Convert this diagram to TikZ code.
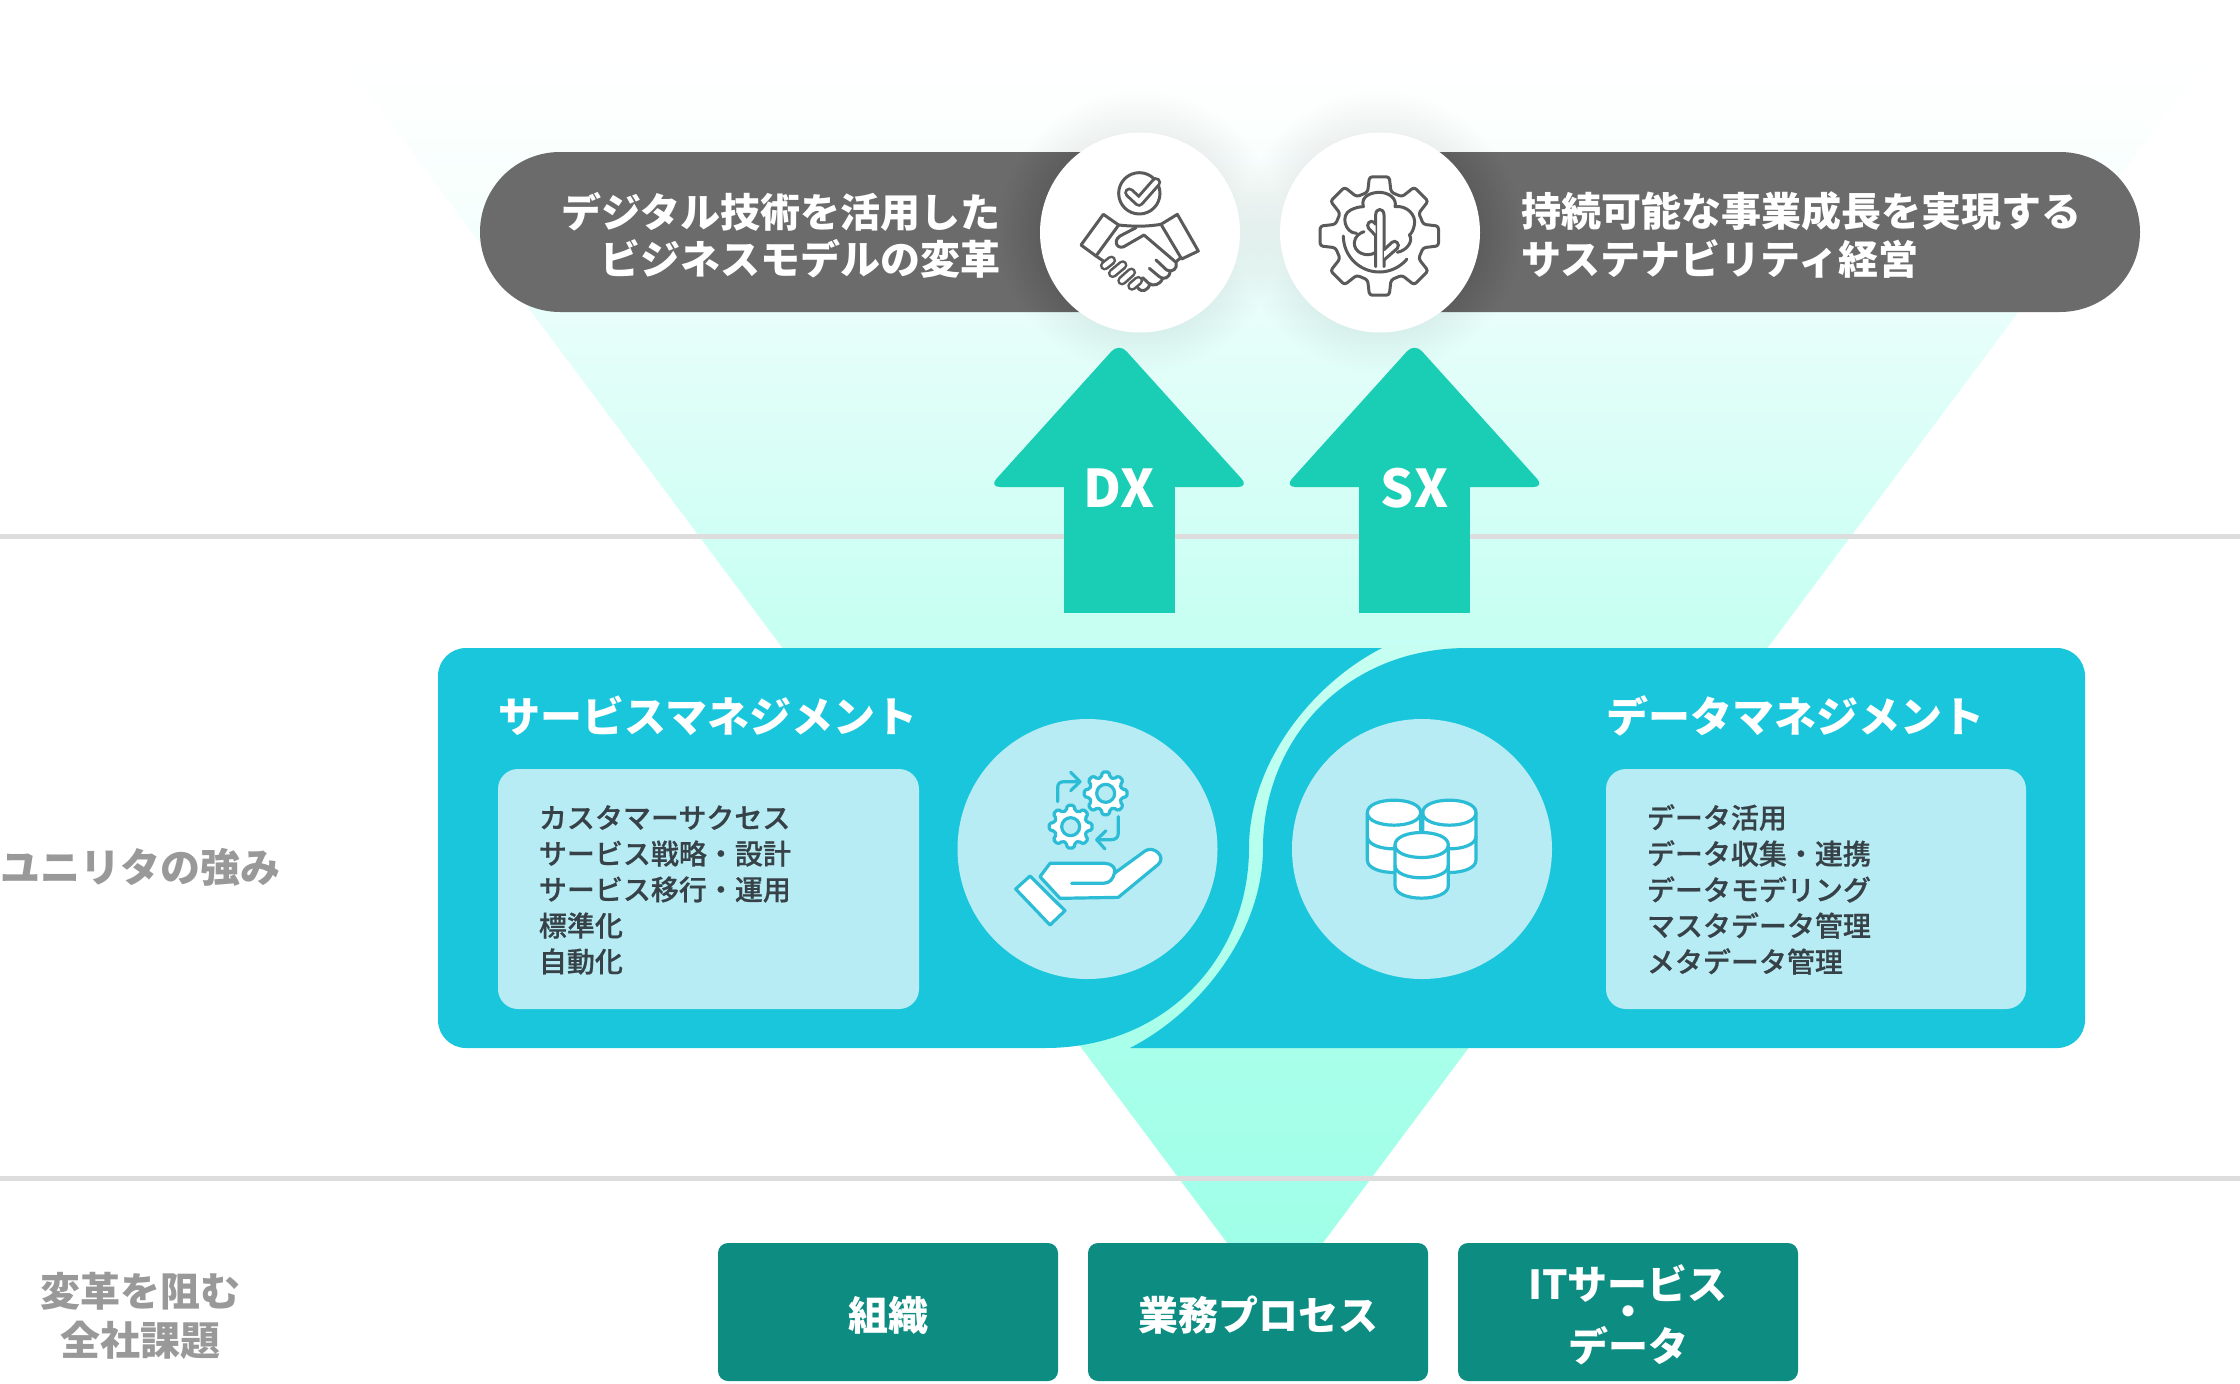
\documentclass[tikz,border=0pt]{standalone}
\usepackage{fontspec}
\setmainfont{Noto Sans CJK JP}
\newfontfamily\jpmed[FakeBold=0.6]{Noto Sans CJK JP Medium}
\definecolor{fa}{HTML}{F7FFFD}
\definecolor{fb}{HTML}{E6FEFA}
\definecolor{fc}{HTML}{C8FFF3}
\definecolor{fd}{HTML}{A8FFEA}
\definecolor{fe}{HTML}{A0FFE8}
\pgfdeclareverticalshading{funnelshade}{100bp}{color(0bp)=(fe); color(25bp)=(fe); color(27.6bp)=(fe); color(35.3bp)=(fd); color(52.5bp)=(fc); color(64.1bp)=(fb); color(69.3bp)=(fa); color(75bp)=(white); color(100bp)=(white)}
\definecolor{barc}{HTML}{6B6B6B}
\definecolor{arrowc}{HTML}{19CEB4}
\definecolor{panelc}{HTML}{1AC6DC}
\definecolor{softc}{HTML}{B8ECF4}
\definecolor{tealc}{HTML}{0D8C82}
\definecolor{rulec}{HTML}{DDDDDD}
\definecolor{labelc}{HTML}{999999}
\definecolor{listc}{HTML}{364248}
\definecolor{iconc}{HTML}{2DBCD6}
\definecolor{darkicon}{HTML}{5A5A5A}
\newcommand{\fs}[1]{\fontsize{#1}{#1}\selectfont}
\newcommand{\smallgear}[2]{%
  \draw[iconline,fill=white,rounded corners=0.8pt,shift={(#1,#2)}] (-22.5:50)
    \foreach \a in {0,45,...,315}{ -- ({\a-15}:50) -- ({\a-9}:65) -- ({\a+9}:65) -- ({\a+15}:50)} -- cycle;
  \draw[iconline,fill=softc,shift={(#1,#2)}] (0,0) circle[radius=27];}
\newcommand{\dbcyl}[3]{%
  \draw[iconline,fill=white] (#1-80,#2) -- (#1-80,#2+#3) .. controls (#1-80,#2+#3+50) and (#1+80,#2+#3+50) .. (#1+80,#2+#3) -- (#1+80,#2) .. controls (#1+80,#2-50) and (#1-80,#2-50) .. (#1-80,#2) -- cycle;
  \draw[iconline] (#1-80,#2) .. controls (#1-80,#2+50) and (#1+80,#2+50) .. (#1+80,#2);
  \draw[iconline] (#1-80,#2+#3/2) .. controls (#1-80,#2+#3/2+50) and (#1+80,#2+#3/2+50) .. (#1+80,#2+#3/2);}
\newcommand{\whitepill}[4]{%
  \draw[darkicon,line width=4.8pt,line cap=round] (#1,#2) -- (#3,#4);
  \draw[white,line width=2.2pt,line cap=round] (#1,#2) -- (#3,#4);}
\tikzset{
  barshape/.style={fill=barc,rounded corners=40pt},
  upshape/.style={fill=arrowc},
  panelshape/.style={fill=panelc},
  softbox/.style={fill=softc,rounded corners=10pt},
  softdisc/.style={fill=softc},
  tealbox/.style={fill=tealc,rounded corners=5pt,minimum width=170pt,minimum height=69pt,inner sep=0pt},
  tealtext/.style={inner sep=0pt,text=white,align=center,font=\bfseries\fs{20}},
  ruleline/.style={rulec,line width=2.5pt},
  bartext/.style={text=white,font=\bfseries\fs{20},inner sep=0pt},
  paneltitle/.style={text=white,font=\bfseries\fs{21},inner sep=0pt,anchor=west},
  listtext/.style={text=listc,font=\jpmed\fs{14},inner sep=0pt,anchor=west},
  sidetext/.style={text=labelc,font=\bfseries\fs{20},inner sep=0pt,align=center},
  arrowtext/.style={text=white,font=\bfseries\fs{26},inner sep=0pt},
  icondark/.style={darkicon,line width=1.5pt,line cap=round,line join=round},
  iconline/.style={iconc,line width=1.6pt,line cap=round,line join=round},
}
\begin{document}
\begin{tikzpicture}[x=0.5pt,y=-0.5pt]
\useasboundingbox (0,0) rectangle (2240,1383);
% funnel
\shade[shading=funnelshade] (341,57) -- (2209,57) -- (1275,1307) -- cycle;
% rules
\draw[ruleline] (0,536) -- (2240,536);
\draw[ruleline] (0,1178.5) -- (2240,1178.5);
% bars
\fill[barshape] (480,152) rectangle (1180,312);
\fill[barshape] (1340,152) rectangle (2140,312);
% glow
\foreach \r in {102,105,...,141}{
  \fill[black,opacity=.0035] (1140,232.5) circle[radius=\r];
  \fill[black,opacity=.0035] (1380,232.5) circle[radius=\r];
}
\fill[white] (1140,232.5) circle[radius=100];
\fill[white] (1380,232.5) circle[radius=100];
\node[bartext,anchor=east,align=right,text width=300pt] (dxgoal) at (1001,235) {\fs{20}デジタル技術を活用した\\[3.6pt]ビジネスモデルの変革};
\node[bartext,anchor=west,align=left,text width=320pt] (sxgoal) at (1521,235) {\fs{20}持続可能な事業成長を実現する\\[3.6pt]サステナビリティ経営};
% handshake icon
\begin{scope}[shift={(1070,165)},scale=1/3]
  \draw[icondark] (208,85) circle[radius=62];
  \draw[darkicon,line width=5.2pt,line cap=round,line join=round] (178,83) -- (207,110) -- (258,52);
  \draw[white,line width=2.2pt,line cap=round,line join=round] (178,83) -- (207,110) -- (258,52);
  \draw[icondark] (100,148) -- (146,180) -- (78,273) -- (33,240) -- cycle;
  \draw[icondark] (322,148) -- (385,258) -- (335,282) -- (273,178) -- cycle;
  \draw[icondark] (146,180) .. controls (190,185) and (230,185) .. (273,178);
  \draw[icondark] (78,273) -- (100,288);
  \draw[icondark] (330,280) -- (318,290);
  \draw[icondark] (198,188) -- (150,213) .. controls (125,230) and (145,260) .. (170,240) -- (222,210) -- (318,292) .. controls (325,310) and (305,325) .. (290,315) -- (258,285);
  \draw[icondark] (300,318) .. controls (300,340) and (280,345) .. (268,335) -- (238,310);
  \draw[icondark] (278,340) .. controls (270,360) and (250,365) .. (236,355) -- (218,338);
  \draw[icondark] (240,358) .. controls (235,375) and (215,385) .. (203,368);
  \whitepill{104}{302}{124}{286}
  \whitepill{128}{325}{158}{300}
  \whitepill{156}{347}{184}{322}
  \whitepill{186}{363}{205}{347}
\end{scope}
% gear tree icon
\begin{scope}[shift={(1310,165)},scale=1/3]
  \draw[icondark,rounded corners=1.4pt,shift={(208,213)}] (-22.5:136)
    \foreach \a in {0,45,...,315}{ -- ({\a-15}:136) -- ({\a-9.5}:180) -- ({\a+9.5}:180) -- ({\a+15}:136)} -- cycle;
  \draw[icondark] (100,213) arc[start angle=180,end angle=40,radius=108];
  \draw[icondark] (140,205) .. controls (105,205) and (90,150) .. (122,135) .. controls (135,128) and (150,125) .. (160,125)
    .. controls (150,90) and (190,82) .. (208,82) .. controls (235,82) and (262,100) .. (255,125)
    .. controls (290,120) and (320,150) .. (313,180) .. controls (310,195) and (305,205) .. (298,210)
    .. controls (310,225) and (295,255) .. (262,262);
  \draw[icondark] (197,262) .. controls (170,280) and (130,262) .. (133,232) .. controls (134,215) and (150,203) .. (162,200);
  \draw[icondark,fill=white] (197,305) -- (197,150) .. controls (197,128) and (222,128) .. (222,150) -- (222,305);
  \draw[icondark,fill=white] (197,212) -- (176,190) .. controls (166,178) and (182,162) .. (192,172) -- (197,178);
  \draw[icondark,fill=white] (222,285) -- (262,250) .. controls (272,238) and (256,222) .. (246,232) -- (222,254);
\end{scope}
% arrows
\foreach \cx/\nm/\tx in {1119/dx/DX,1414.5/sx/SX}{
  \fill[upshape,rounded corners=5.5pt] (\cx-55,487) -- (\cx-130,487) -- (\cx,343) -- (\cx+130,487) -- (\cx+55,487) -- cycle;
  \fill[upshape] (\cx-55.5,480) rectangle (\cx+55.5,613);
  \node[arrowtext] (\nm) at (\cx,488) {\tx};
}
% panels (the funnel shows through the gap between them)
\fill[panelshape] (1382,648) .. controls (1310,685) and (1249,765) .. (1249,848)
  .. controls (1249,956) and (1167,1048) .. (1045,1048) -- (466,1048)
  .. controls (450.5,1048) and (438,1035.5) .. (438,1020) -- (438,676)
  .. controls (438,660.5) and (450.5,648) .. (466,648) -- cycle;
\fill[panelshape] (1467,648) .. controls (1345,648) and (1263,740) .. (1263,848)
  .. controls (1263,931) and (1202,1011) .. (1130,1048) -- (2057,1048)
  .. controls (2072.5,1048) and (2085,1035.5) .. (2085,1020) -- (2085,676)
  .. controls (2085,660.5) and (2072.5,648) .. (2057,648) -- cycle;
\fill[softbox] (498,769) rectangle (919,1009);
\fill[softbox] (1606,769) rectangle (2026,1009);
\fill[softdisc] (1087.5,849) circle[radius=130];
\fill[softdisc] (1422,849) circle[radius=130];
\node[paneltitle] (svc) at (498,716) {サービスマネジメント};
\node[paneltitle] (dat) at (1606,716) {データマネジメント};
\foreach \i/\y/\tx in {a/817.5/カスタマーサクセス,b/853.5/サービス戦略・設計,c/889.5/サービス移行・運用,d/925.5/標準化,e/961.5/自動化}{
  \node[listtext] (l\i) at (538.5,\y) {\tx};
}
\foreach \i/\y/\tx in {a/817.5/データ活用,b/853.5/データ収集・連携,c/889.5/データモデリング,d/925.5/マスタデータ管理,e/961.5/メタデータ管理}{
  \node[listtext] (r\i) at (1646.5,\y) {\tx};
}
% hand icon
\begin{scope}[shift={(1005,765)},scale=1/3]
  \smallgear{302}{85}
  \smallgear{197}{185}
  \draw[iconline] (158,110) -- (158,68) .. controls (158,55) and (165,50) .. (178,50) -- (222,50);
  \draw[iconline] (197,22) -- (225,50) -- (197,77);
  \draw[iconline] (340,155) -- (340,205) .. controls (340,218) and (330,224) .. (320,224) -- (275,224);
  \draw[iconline] (303,197) -- (275,224) -- (300,252);
  \draw[iconline,fill=white] (105,335) -- (135,295) -- (300,295) .. controls (320,295) and (335,310) .. (328,325)
    -- (420,258) .. controls (445,240) and (485,275) .. (460,298) -- (340,397) -- (165,400) -- cycle;
  \draw[iconline] (200,355) -- (295,355) .. controls (315,355) and (325,340) .. (328,325);
  \draw[iconline,fill=white] (75,333) -- (180,437) -- (135,480) -- (32,372) -- cycle;
\end{scope}
% database icon
\begin{scope}[shift={(1355,790)},scale=1/3]
  \dbcyl{283}{68}{142}
  \dbcyl{117}{68}{142}
  \dbcyl{200}{165}{122}
\end{scope}
% left labels
\node[sidetext] (strength) at (140.5,867) {ユニリタの強み};
\node[sidetext] (issues) at (140,1315.5) {変革を阻む\\[4.5pt]全社課題};
% teal boxes
\node[tealbox] (org) at (888,1312) {};
\node[tealbox] (biz) at (1258,1312) {};
\node[tealbox] (its) at (1628,1312) {};
\node[tealtext] (orgt) at (888,1315) {組織};
\node[tealtext] (bizt) at (1258,1315) {業務プロセス};
\node[tealtext] (itsa) at (1628,1283) {ITサービス};
\node[tealtext] (itsb) at (1628,1316) {・};
\node[tealtext] (itsc) at (1628,1346) {データ};
\end{tikzpicture}
\end{document}
